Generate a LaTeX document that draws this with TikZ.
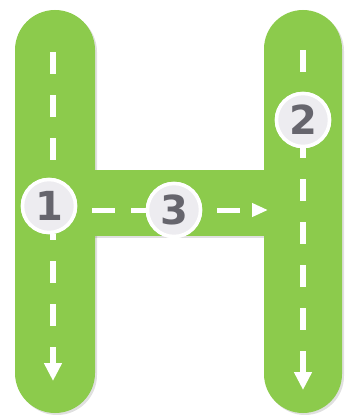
\documentclass[tikz,border=0pt]{standalone}
\usepackage{fontspec}
\newfontfamily\numfont{DejaVu Sans}
\usetikzlibrary{arrows.meta}
\definecolor{hgreen}{HTML}{8CCB4C}
\definecolor{cfill}{HTML}{EDECF0}
\definecolor{numgray}{HTML}{66656D}
\tikzset{
  bar/.style={fill=hgreen, draw=none},
  barshadow/.style={fill=black, opacity=0.12, draw=none},
  road/.style={draw=white, line width=5.5pt, dash pattern=on 22pt off 21pt},
  roadend/.style={road, -{Triangle[width=17pt,length=18pt]}},
  hroad/.style={draw=white, line width=5pt, dash pattern=on 23pt off 16pt},
  hroadend/.style={hroad, -{Triangle[width=13pt,length=16pt]}},
  stop/.style={circle, fill=cfill, draw=white, line width=3.5pt, minimum size=53pt, inner sep=0pt,
    font=\numfont\bfseries\fontsize{40}{40}\selectfont, text=numgray}
}
\begin{document}
\begin{tikzpicture}[x=1pt,y=-1pt]
\useasboundingbox (0,0) rectangle (347,420);
% soft shadow of the H
\begin{scope}[shift={(2,2)}]
\fill[barshadow] (15,50) arc[start angle=180,end angle=360,radius=40] -- (95,373) arc[start angle=0,end angle=180,radius=40] -- cycle;
\fill[barshadow] (264,49) arc[start angle=180,end angle=360,radius=39] -- (342,374) arc[start angle=0,end angle=180,radius=39] -- cycle;
\fill[barshadow] (90,170) rectangle (270,236);
\end{scope}
% H shape
\fill[bar] (15,50) arc[start angle=180,end angle=360,radius=40] -- (95,373) arc[start angle=0,end angle=180,radius=40] -- cycle;
\fill[bar] (264,49) arc[start angle=180,end angle=360,radius=39] -- (342,374) arc[start angle=0,end angle=180,radius=39] -- cycle;
\fill[bar] (90,170) rectangle (270,236);
% stops
\node[stop] (c1) at (49,206) {1};
\node[stop] (c2) at (303,120) {2};
\node[stop] (c3) at (174,210) {3};
% road ends
\coordinate (lt) at (53,52);
\coordinate (lb) at (53,381);
\coordinate (rt) at (303,50);
\coordinate (rb) at (303,390);
\coordinate (hr) at (268,210);
% dashed roads
\draw[road] (lt) -- (lt |- c1.north);
\draw[roadend, dash phase=16pt] (lt |- c1.south) -- (lb);
\draw[road] (rt) -- (c2.north);
\draw[roadend, dash phase=12pt] (c2.south) -- (rb);
\draw[hroad, dash phase=-15pt] (c1.east |- c3) -- (c3.west);
\draw[hroadend, dash phase=-15pt] (c3.east) -- (hr);
% redraw stops on top
\node[stop] at (c1) {1};
\node[stop] at (c2) {2};
\node[stop] at (c3) {3};
\end{tikzpicture}
\end{document}
